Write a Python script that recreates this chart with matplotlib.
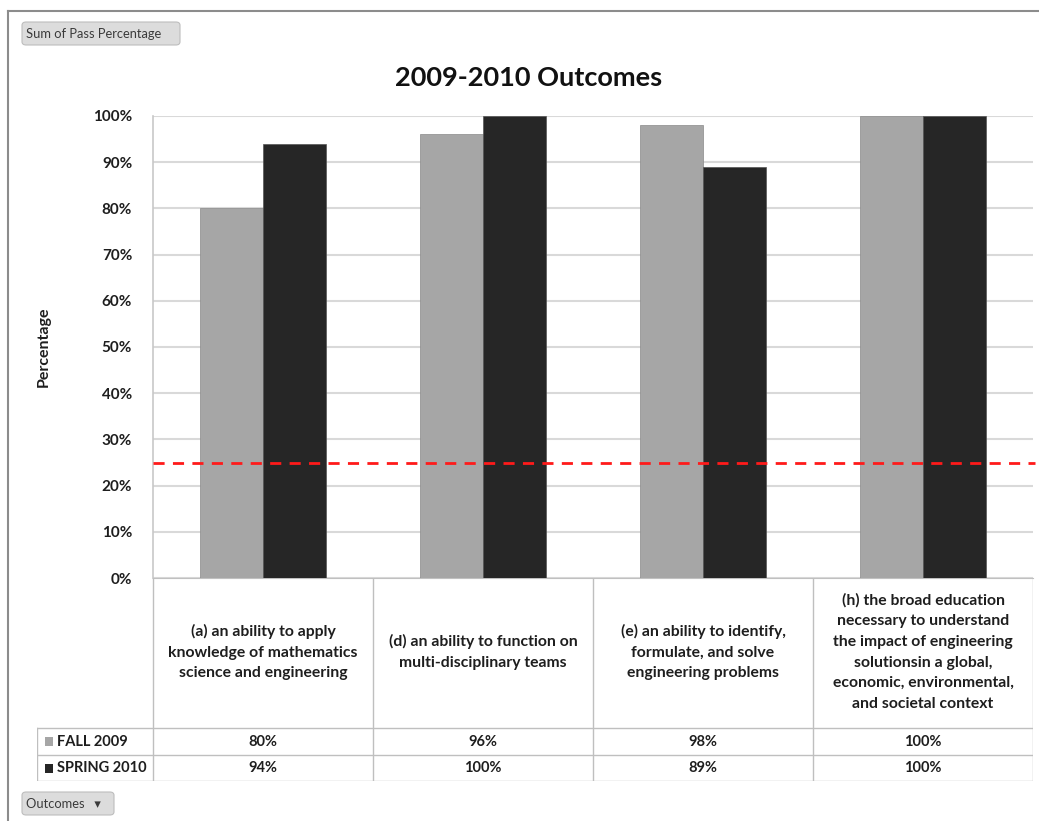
import matplotlib
matplotlib.use("Agg")
import matplotlib.pyplot as plt
import numpy as np
from matplotlib.patches import FancyBboxPatch, Rectangle
from matplotlib.lines import Line2D

plt.rcParams['font.family'] = ['Lato', 'DejaVu Sans']

# data
categories = [
    "(a) an ability to apply\nknowledge of mathematics\nscience and engineering",
    "(d) an ability to function on\nmulti-disciplinary teams",
    "(e) an ability to identify,\nformulate, and solve\nengineering problems",
    "(h) the broad education\nnecessary to understand\nthe impact of engineering\nsolutionsin a global,\neconomic, environmental,\nand societal context",
]
series_names = ["FALL 2009", "SPRING 2010"]
fall_2009 = [80, 96, 98, 100]
spring_2010 = [94, 100, 89, 100]
threshold = 25
yticks = [0, 10, 20, 30, 40, 50, 60, 70, 80, 90, 100]

colors = ["#A6A6A6", "#262626"]
grid_col = "#D9D9D9"
txt_col = "#1E1E1E"
W, H = 1039, 821


def fx(px):
    return px / W


def fy(py):
    return 1 - py / H


fig = plt.figure(figsize=(W / 100, H / 100), dpi=100)

# plot area in pixels
x_left, x_right, y_top, y_bot = 153, 1033, 116, 578
ax = fig.add_axes([fx(x_left), fy(y_bot), fx(x_right - x_left), (y_bot - y_top) / H])

n = len(categories)
x = np.arange(n)
bw = 0.285
series = [fall_2009, spring_2010]
for i, vals in enumerate(series):
    ax.bar(x + (i - 0.5) * bw, vals, width=bw, color=colors[i],
           edgecolor="#8a8a8a" if i == 0 else "#555555", linewidth=0.5, zorder=3)

ax.set_xlim(-0.5, n - 0.5)
ax.set_ylim(0, 100)
ax.set_yticks(yticks)
ax.set_yticklabels([f"{t}%" for t in yticks], fontsize=11, fontweight="bold", color=txt_col)
ax.tick_params(axis="y", length=0, pad=15)
ax.set_xticks([])
ax.grid(axis="y", color=grid_col, linewidth=1.5, zorder=0)
for s in ["top", "right"]:
    ax.spines[s].set_visible(False)
ax.spines["left"].set_color("#C8C8C8")
ax.spines["bottom"].set_color("#C0C0C0")
ax.spines["left"].set_linewidth(1.2)

# threshold line extends a bit past the plot area
ax.plot([-0.5, n - 0.5 + 0.01], [threshold, threshold], color="#FF1A1A", linestyle=(0, (4, 3)),
        linewidth=2, zorder=4, clip_on=False)

ax.set_ylabel("Percentage", fontsize=11.5, fontweight="bold", color=txt_col)
ax.yaxis.set_label_coords((51 - x_left) / (x_right - x_left), 0.5)

fig.text(fx(529), fy(78), "2009-2010 Outcomes", fontsize=19.5, fontweight="bold",
         ha="center", va="center", color="#111111")

# table below the chart
tab_left = 37
tax = fig.add_axes([fx(tab_left), fy(781), fx(x_right - tab_left), (781 - y_bot) / H])
unit = (x_right - x_left) / n
tax.set_xlim(-0.5 - (x_left - tab_left) / unit, n - 0.5)
tax.set_ylim(781, y_bot)
tax.axis("off")
line_col = "#BFBFBF"
row_y = [728, 755, 781]
for b in np.arange(n + 1) - 0.5:
    tax.plot([b, b], [y_bot, 781], color=line_col, lw=1)
xl = tax.get_xlim()[0]
tax.plot([xl, xl], [728, 781], color=line_col, lw=1)
for yy in row_y:
    tax.plot([xl, n - 0.5], [yy, yy], color=line_col, lw=1)

for i, lab in enumerate(categories):
    tax.text(i, 652, lab, ha="center", va="center", fontsize=11.3, fontweight="bold",
             color=txt_col, linespacing=1.6)

for r, (name, vals) in enumerate(zip(series_names, series)):
    yc = (row_y[r] + row_y[r + 1]) / 2
    tax.add_patch(Rectangle((xl + 8 / unit, yc - 4.5), 8 / unit, 9, color=colors[r], lw=0))
    tax.text(xl + 20 / unit, yc, name, ha="left", va="center", fontsize=10.5,
             fontweight="bold", color=txt_col)
    for i, v in enumerate(vals):
        tax.text(i, yc, f"{v}%", ha="center", va="center", fontsize=10.5,
                 fontweight="bold", color=txt_col)

# outer frame (cropped on the right and bottom)
fig.add_artist(Line2D([fx(8), fx(8)], [0, fy(11)], color="#8C8C8C", lw=1.5))
fig.add_artist(Line2D([fx(8), 1], [fy(11), fy(11)], color="#8C8C8C", lw=1.5))

# pivot buttons
for (bx0, by0, bx1, by1, label) in [(22, 22, 180, 45, "Sum of Pass Percentage"),
                                    (22, 792, 114, 815, "Outcomes   \u25be")]:
    fig.add_artist(FancyBboxPatch((fx(bx0), fy(by1)), fx(bx1 - bx0), (by1 - by0) / H,
                                  boxstyle="round,pad=0,rounding_size=0.004",
                                  facecolor="#DCDCDC", edgecolor="#BDBDBD", lw=0.8,
                                  transform=fig.transFigure))
    fig.text(fx(bx0 + 4), fy((by0 + by1) / 2), label, fontsize=9.3, color="#3A3A3A",
             ha="left", va="center")

fig.savefig("out.png", dpi=100)
